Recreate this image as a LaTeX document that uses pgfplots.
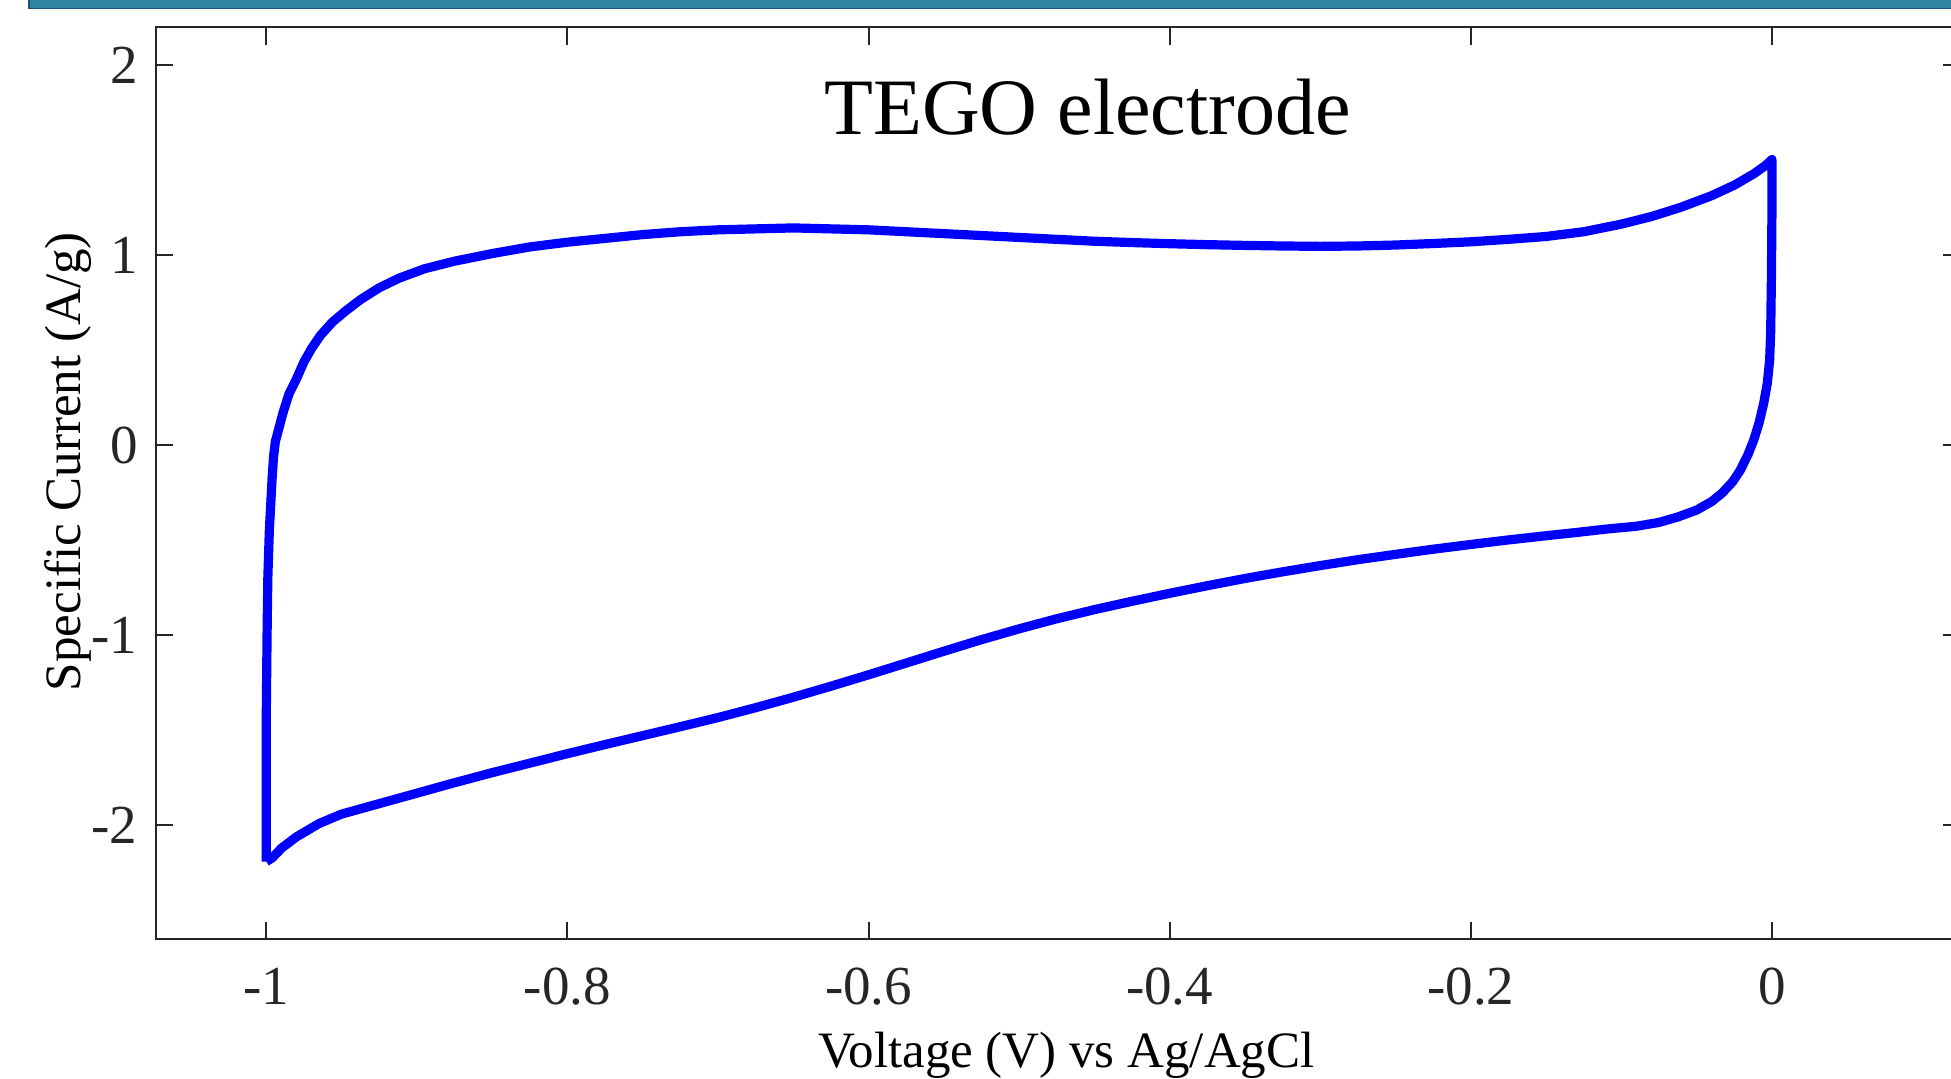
\documentclass[border=0pt]{standalone}
\usepackage{fontspec}
\setmainfont{Liberation Serif}
\usepackage{pgfplots}
\pgfplotsset{compat=1.18}
\definecolor{axgray}{RGB}{38,38,38}
\definecolor{teal1}{RGB}{49,133,160}
\definecolor{tealb}{RGB}{30,80,120}
\begin{document}
\begin{tikzpicture}[x=1pt,y=1pt]
\fill[teal1] (14.35,535.3) rectangle (990,545);
\draw[tealb, line width=0.8pt] (14.35,545) -- (14.35,535.3) -- (990,535.3);
\begin{axis}[
  at={(77.75pt,69.75pt)}, anchor=south west,
  scale only axis, width=902.75pt, height=456pt,
  xmin=-1.0736, xmax=0.1256, ymin=-2.6, ymax=2.2,
  xtick={-1,-0.8,-0.6,-0.4,-0.2,0},
  xticklabels={-1,-0.8,-0.6,-0.4,-0.2,0},
  ytick={-2,-1,0,1,2},
  yticklabels={-2,-1,0,1,2},
  tick align=inside, major tick length=8.8pt,
  axis line style={axgray, line width=1pt},
  tick style={axgray, line width=1pt},
  tick label style={font=\fontsize{27.5}{30}\selectfont, text=axgray, inner sep=0pt},
  xticklabel style={anchor=north, yshift=-14.25pt},
  yticklabel style={anchor=east, xshift=-8.8pt},
  xlabel={Voltage (V) vs Ag/AgCl},
  ylabel={Specific Current (A/g)},
  label style={font=\fontsize{25.5}{28}\selectfont, inner sep=0pt},
  xlabel style={at={(axis description cs:0.5045,-0.1404)}, anchor=base},
  ylabel style={at={(axis description cs:-0.0418,0.524)}, anchor=base},
]
\addplot[color={rgb,255:red,0;green,0;blue,255}, line width=4.6pt, line join=round] coordinates {
(-1.000,-2.19) (-1.000,-1.80) (-1.000,-1.40) (-0.9995,-1.00) (-0.999,-0.70)
(-0.998,-0.45) (-0.9970,-0.30) (-0.9962,-0.18) (-0.9952,-0.06) (-0.9940,0.02)
(-0.9920,0.08) (-0.9890,0.17) (-0.9850,0.27) (-0.9800,0.35) (-0.9750,0.44)
(-0.9700,0.51) (-0.9640,0.58) (-0.9560,0.65) (-0.9470,0.71) (-0.9370,0.77)
(-0.9250,0.83) (-0.9120,0.88) (-0.8950,0.93) (-0.8750,0.97) (-0.8500,1.01)
(-0.8250,1.045) (-0.8000,1.07) (-0.7750,1.09) (-0.7500,1.11) (-0.7250,1.125)
(-0.7000,1.135) (-0.6750,1.14) (-0.6500,1.145) (-0.6250,1.14) (-0.6000,1.135)
(-0.5750,1.125) (-0.5500,1.115) (-0.5250,1.105) (-0.5000,1.095) (-0.4750,1.085)
(-0.4500,1.075) (-0.4250,1.068) (-0.4000,1.062) (-0.3750,1.057) (-0.3500,1.053)
(-0.3250,1.05) (-0.3000,1.048) (-0.2750,1.05) (-0.2500,1.055) (-0.2250,1.063)
(-0.2000,1.072) (-0.1750,1.085) (-0.1500,1.10) (-0.1250,1.125) (-0.1000,1.165)
(-0.0800,1.205) (-0.0600,1.255) (-0.0400,1.315) (-0.0250,1.37) (-0.0120,1.43)
(-0.0040,1.475) (0.0000,1.505)
(0.0000,1.20) (-0.0003,0.90) (-0.0008,0.60) (-0.0015,0.45) (-0.0030,0.33)
(-0.0055,0.22) (-0.0085,0.12) (-0.0120,0.03) (-0.0160,-0.05) (-0.0210,-0.13)
(-0.0260,-0.19) (-0.0330,-0.25) (-0.0400,-0.295) (-0.0500,-0.34) (-0.0620,-0.375)
(-0.0750,-0.405) (-0.0900,-0.425) (-0.1100,-0.44) (-0.1300,-0.458) (-0.1500,-0.475)
(-0.1750,-0.497) (-0.2000,-0.521) (-0.2250,-0.546) (-0.2500,-0.573) (-0.2750,-0.601)
(-0.3000,-0.632) (-0.3250,-0.665) (-0.3500,-0.700) (-0.3750,-0.738) (-0.4000,-0.778)
(-0.4250,-0.820) (-0.4500,-0.864) (-0.4750,-0.912) (-0.5000,-0.965) (-0.5250,-1.022)
(-0.5500,-1.083) (-0.5750,-1.145) (-0.6000,-1.207) (-0.6250,-1.267) (-0.6500,-1.325)
(-0.6750,-1.380) (-0.7000,-1.432) (-0.7250,-1.480) (-0.7500,-1.527) (-0.7750,-1.574)
(-0.8000,-1.622) (-0.8250,-1.672) (-0.8500,-1.722) (-0.8750,-1.775) (-0.9000,-1.830)
(-0.9250,-1.885) (-0.9500,-1.94) (-0.9650,-1.99) (-0.9800,-2.06) (-0.9900,-2.12)
(-0.9960,-2.17) (-1.0000,-2.19)
};
\node[anchor=base, font=\fontsize{40}{44}\selectfont] at (axis description cs:0.5163,0.8829) {TEGO electrode};
\end{axis}
\pgfresetboundingbox
\useasboundingbox (0,0) rectangle (975.5,539.5);
\end{tikzpicture}
\end{document}
